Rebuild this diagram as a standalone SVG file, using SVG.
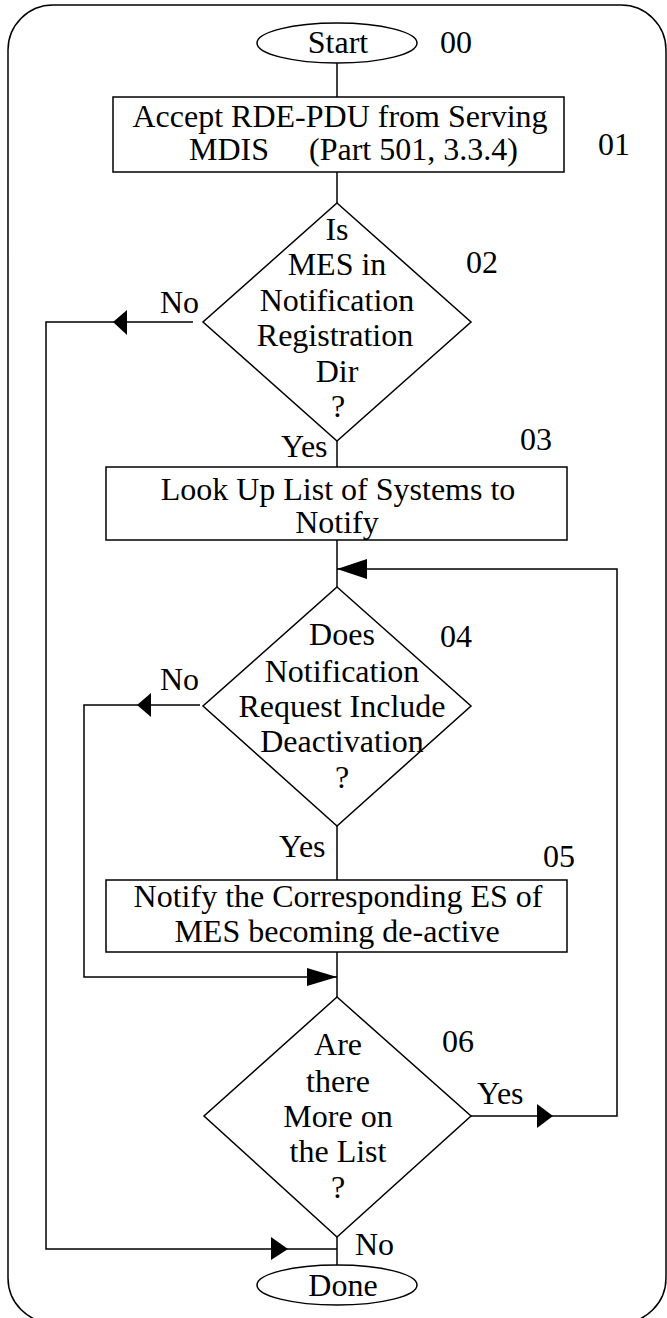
<svg xmlns="http://www.w3.org/2000/svg" width="667" height="1318" viewBox="0 0 667 1318">
<style>
text{font-family:"Liberation Serif","Times New Roman",serif;font-size:32px;fill:#000}
.c{text-anchor:middle}
.shape{fill:#fff;stroke:#000;stroke-width:1.5}
.ln{fill:none;stroke:#000;stroke-width:1.5}
.ah{fill:#000;stroke:none}
</style>
<rect x="8" y="5" width="658" height="1318" rx="45" ry="45" fill="#fff" stroke="#000" stroke-width="1.5"/>
<g id="connectors">
<line class="ln" x1="337" y1="63" x2="337" y2="97"/>
<line class="ln" x1="337" y1="172" x2="337" y2="203"/>
<line class="ln" x1="337" y1="441" x2="337" y2="467"/>
<line class="ln" x1="337" y1="540" x2="337" y2="587"/>
<line class="ln" x1="337" y1="826" x2="337" y2="880"/>
<line class="ln" x1="337" y1="952" x2="337" y2="997"/>
<line class="ln" x1="337" y1="1237" x2="337" y2="1265"/>
<polyline class="ln" points="193,322 46,322 46,1249 337,1249"/>
<polyline class="ln" points="200,705 84,705 84,977 337,977"/>
<polyline class="ln" points="471,1116 617,1116 617,569 337,569"/>
<polygon class="ah" points="113,322 127,310 127,335"/>
<polygon class="ah" points="137,705 151,693 151,717"/>
<polygon class="ah" points="337,569 367,559 367,579"/>
<polygon class="ah" points="337,977 307,968 307,986"/>
<polygon class="ah" points="553,1116 537,1104 537,1128"/>
<polygon class="ah" points="288,1249 271,1237 271,1260"/>
<text x="160" y="313">No</text>
<text x="281" y="457">Yes</text>
<text x="160" y="690">No</text>
<text x="279" y="857">Yes</text>
<text x="477" y="1104">Yes</text>
<text x="355" y="1255">No</text>
</g>
<g id="n00">
<ellipse class="shape" cx="337" cy="43" rx="80" ry="20"/>
<text class="c" x="338" y="53">Start</text>
<text x="440" y="53">00</text>
</g>
<g id="n01">
<rect class="shape" x="113" y="97" width="451" height="75"/>
<text class="c" x="340" y="127">Accept RDE-PDU from Serving</text>
<text x="189" y="160" xml:space="preserve">MDIS     (Part 501, 3.3.4)</text>
<text x="598" y="155">01</text>
</g>
<g id="n02">
<polygon class="shape" points="337,203 471,322 337,441 203,322"/>
<text class="c" x="337" y="240">Is</text>
<text class="c" x="337" y="275">MES in</text>
<text class="c" x="337" y="311">Notification</text>
<text class="c" x="335" y="346">Registration</text>
<text class="c" x="337" y="382">Dir</text>
<text class="c" x="338" y="417">?</text>
<text x="466" y="273">02</text>
</g>
<g id="n03">
<rect class="shape" x="106" y="467" width="461" height="73"/>
<text class="c" x="338" y="500">Look Up List of Systems to</text>
<text class="c" x="337" y="533">Notify</text>
<text x="520" y="450">03</text>
</g>
<g id="n04">
<polygon class="shape" points="337,587 471,706 337,826 203,706"/>
<text class="c" x="342" y="645">Does</text>
<text class="c" x="342" y="682">Notification</text>
<text class="c" x="342" y="717">Request Include</text>
<text class="c" x="342" y="752">Deactivation</text>
<text class="c" x="342" y="788">?</text>
<text x="440" y="647">04</text>
</g>
<g id="n05">
<rect class="shape" x="106" y="880" width="461" height="72"/>
<text class="c" x="338" y="907">Notify the Corresponding ES of</text>
<text class="c" x="337" y="942">MES becoming de-active</text>
<text x="543" y="867">05</text>
</g>
<g id="n06">
<polygon class="shape" points="337,997 471,1116 337,1237 204,1116"/>
<text class="c" x="338" y="1055">Are</text>
<text class="c" x="338" y="1092">there</text>
<text class="c" x="338" y="1127">More on</text>
<text class="c" x="338" y="1162">the List</text>
<text class="c" x="338" y="1198">?</text>
<text x="442" y="1052">06</text>
</g>
<g id="done">
<ellipse class="shape" cx="337" cy="1285" rx="80" ry="20"/>
<text class="c" x="343" y="1296">Done</text>
</g>
</svg>
